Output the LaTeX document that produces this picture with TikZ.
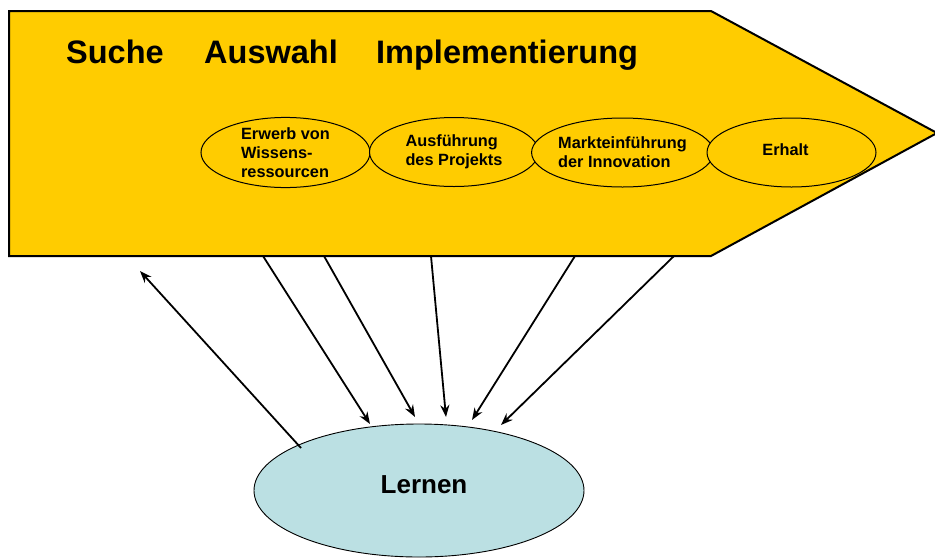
\documentclass[tikz,border=0pt]{standalone}
\usepackage{fontspec}
\setmainfont{Liberation Sans}
\usetikzlibrary{shapes.geometric,arrows.meta}
\definecolor{arrowyellow}{HTML}{FFCC00}
\definecolor{learnblue}{HTML}{BBE0E3}
\tikzset{
  phase/.style={ellipse, draw=black, line width=1pt, fill=arrowyellow, inner sep=0pt,
    minimum width=169pt, minimum height=69pt, align=left,
    font=\fontsize{16.3}{18.8}\selectfont\bfseries},
  heading/.style={anchor=base west, inner sep=0pt, font=\fontsize{32.5}{36}\selectfont\bfseries},
  flow/.style={line width=1.8pt, -{Stealth[length=12pt,width=9pt]}}
}
\begin{document}
\begin{tikzpicture}[x=1pt,y=-1pt]
\useasboundingbox (0,0) rectangle (935,558);
% process arrow
\draw[line width=2pt, fill=arrowyellow, line join=miter] (9,11) -- (711,11) -- (937,133) -- (711,256) -- (9,256) -- cycle;
\coordinate (b1) at (263,256);
\coordinate (b2) at (324,256);
\coordinate (b3) at (431,256);
\coordinate (b4) at (575,256);
\coordinate (b5) at (674,256);
\coordinate (up) at (140,271);
% headings
\node[heading] (suche) at (66,63) {Suche};
\node[heading] (auswahl) at (204,63) {Auswahl};
\node[heading] (impl) at (376,63) {Implementierung};
% phases
\node[phase] (e1) at (285.5,152.5) {Erwerb von\\Wissens-\\ressourcen};
\node[phase] (e2) at (454,152) {Ausführung\\des Projekts};
\node[phase] (e3) at (622.5,152.5) {Markteinführung\\der Innovation};
\node[phase] (e4) at (791.5,152.5) {};
\node[font=\fontsize{16.3}{18.8}\selectfont\bfseries, inner sep=0pt] (erhalt) at (785.5,149.5) {Erhalt};
% learning
\node[ellipse, draw=black, line width=0.9pt, fill=learnblue, inner sep=0pt,
  minimum width=330pt, minimum height=133pt] (lernen) at (419,490.5) {};
\node[font=\fontsize{26}{30}\selectfont\bfseries, inner sep=0pt] (lt) at (424,485) {Lernen};
\coordinate (t1) at (370,424);
\coordinate (t2) at (415,417);
\coordinate (t3) at (446,417);
\coordinate (t4) at (472,420);
\coordinate (t5) at (501,425);
\coordinate (l0) at (301,448);
% connectors
\draw[flow] (l0) -- (up);
\draw[flow] (b1) -- (t1);
\draw[flow] (b2) -- (t2);
\draw[flow] (b3) -- (t3);
\draw[flow] (b4) -- (t4);
\draw[flow] (b5) -- (t5);
\end{tikzpicture}
\end{document}
